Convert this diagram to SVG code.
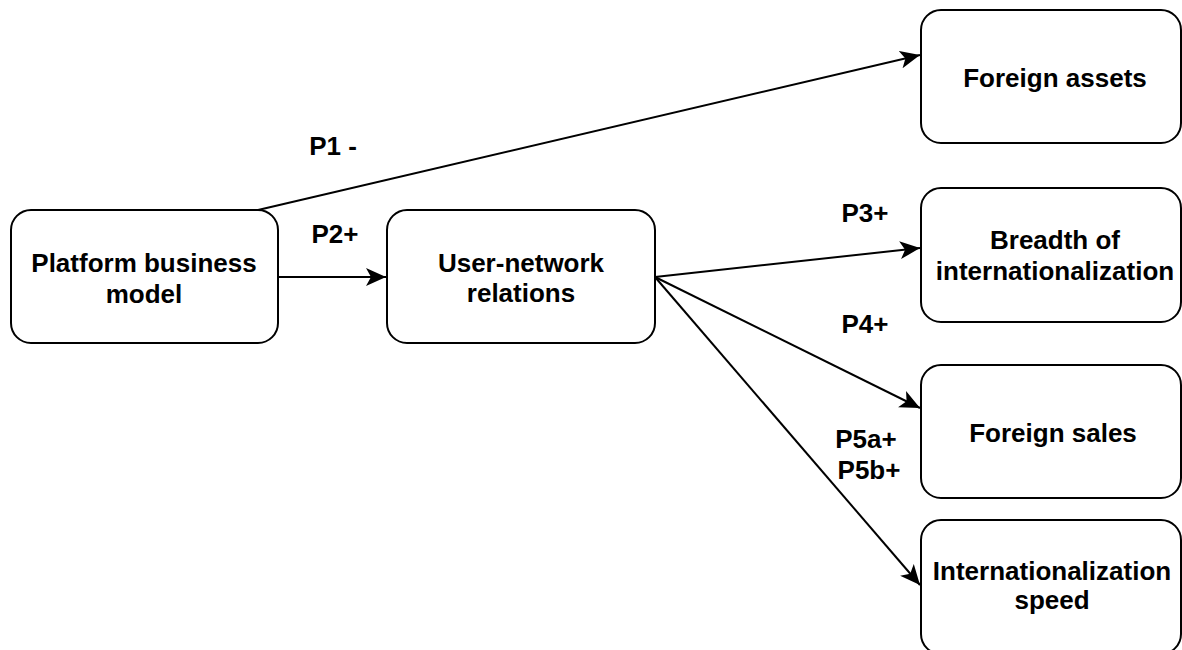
<svg xmlns="http://www.w3.org/2000/svg" width="1182" height="650" viewBox="0 0 1182 650">
  <style>
    .box { fill: #ffffff; stroke: #000000; stroke-width: 2; }
    .lbl { font-family: "Liberation Sans", Arial, Helvetica, sans-serif; font-size: 26px; font-weight: bold; fill: #000000; text-anchor: middle; }
    .edge { fill: none; stroke: #000000; stroke-width: 2; marker-end: url(#arrow); }
  </style>
  <defs>
    <marker id="arrow" markerUnits="userSpaceOnUse" markerWidth="22" markerHeight="20" refX="20" refY="9" orient="auto">
      <path d="M0,0 L20,9 L0,18 L5,9 Z" fill="#000000"/>
    </marker>
  </defs>
  <rect width="1182" height="650" fill="#ffffff"/>

  <g id="connectors">
    <line class="edge" x1="258" y1="210" x2="920" y2="55"/>
    <line class="edge" x1="278" y1="277" x2="386" y2="277"/>
    <line class="edge" x1="655" y1="277" x2="920" y2="248"/>
    <line class="edge" x1="655" y1="277" x2="920" y2="408"/>
    <line class="edge" x1="655" y1="277" x2="920" y2="585"/>
    <text class="lbl" x="333" y="155">P1 -</text>
    <text class="lbl" x="335" y="243">P2+</text>
    <text class="lbl" x="865" y="222">P3+</text>
    <text class="lbl" x="865" y="333">P4+</text>
    <text class="lbl" x="866" y="448">P5a+</text>
    <text class="lbl" x="869" y="479">P5b+</text>
  </g>

  <g id="platform-business-model">
    <rect class="box" x="11" y="210" width="267" height="133" rx="20" ry="20"/>
    <text class="lbl" x="144" y="272">Platform business</text>
    <text class="lbl" x="144" y="303">model</text>
  </g>

  <g id="user-network-relations">
    <rect class="box" x="387" y="210" width="268" height="133" rx="20" ry="20"/>
    <text class="lbl" x="521" y="272">User-network</text>
    <text class="lbl" x="521" y="302">relations</text>
  </g>

  <g id="foreign-assets">
    <rect class="box" x="921" y="10" width="260" height="133" rx="20" ry="20"/>
    <text class="lbl" x="1055" y="87">Foreign assets</text>
  </g>

  <g id="breadth-of-internationalization">
    <rect class="box" x="921" y="188" width="260" height="134" rx="20" ry="20"/>
    <text class="lbl" x="1055" y="249">Breadth of</text>
    <text class="lbl" x="1055" y="280">internationalization</text>
  </g>

  <g id="foreign-sales">
    <rect class="box" x="921" y="365" width="260" height="133" rx="20" ry="20"/>
    <text class="lbl" x="1053" y="442">Foreign sales</text>
  </g>

  <g id="internationalization-speed">
    <rect class="box" x="921" y="520" width="260" height="134" rx="20" ry="20"/>
    <text class="lbl" x="1052" y="580">Internationalization</text>
    <text class="lbl" x="1052" y="609">speed</text>
  </g>
</svg>
